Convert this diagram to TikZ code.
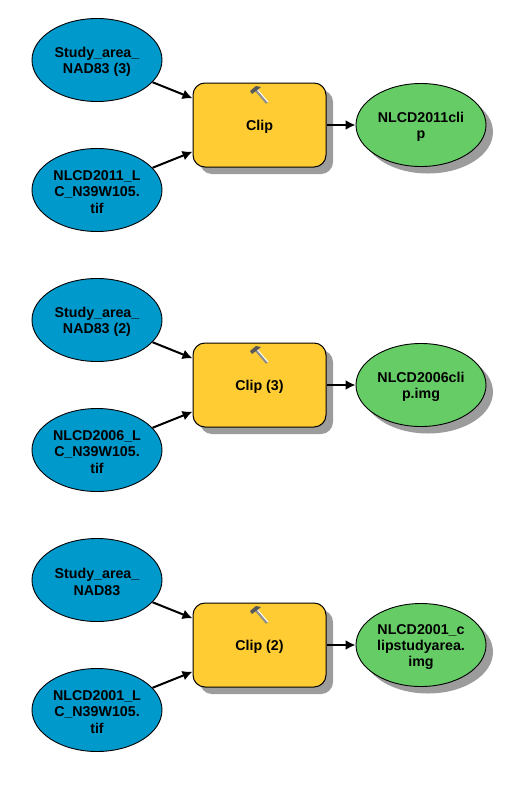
\documentclass[tikz,border=0pt]{standalone}
\usepackage{fontspec}
\setmainfont{Liberation Sans}
\usepackage{tikz}
\usetikzlibrary{
	arrows.meta, shapes.geometric, positioning, shadows
}
\definecolor{inputblue}  {RGB}{0,  153, 204}
\definecolor{toolyellow} {RGB}{255,204, 51}
\definecolor{outgreen}   {RGB}{102,204, 102}
\definecolor{shadowgrey} {RGB}{156,156, 156}
\newcommand{\topgap}{\rule{0pt}{8pt}}
\tikzset{
	modeltext/.style={font=\fontsize{8.1}{9.3}\selectfont\bfseries,align=center,inner sep=0pt,text=black},
	dropgrey/.style={drop shadow={shadow xshift=1.4mm,shadow yshift=-1.4mm,fill=shadowgrey,opacity=1}},
	datain/.style={modeltext,ellipse,draw=black,line width=0.18mm,fill=inputblue,minimum width=26mm,minimum height=16.6mm},
	dataout/.style={modeltext,ellipse,draw=black,line width=0.18mm,fill=outgreen,dropgrey,minimum width=26mm,minimum height=16.6mm},
	toolbox/.style={modeltext,rectangle,rounded corners=2.4mm,draw=black,line width=0.2mm,fill=toolyellow,dropgrey,minimum width=26.6mm,minimum height=16.8mm},
	link/.style={line width=0.4mm,-{Latex[length=2mm,width=2mm]}}
}
\begin{document}
\begin{tikzpicture}[x=0.2mm,y=-0.2mm]
	\useasboundingbox (0,0) rectangle (526,786);
	\foreach \i/\dy/\area/\raster/\tool/\result in {
		1/0/{Study\_area\_\\NAD83 (3)}/{NLCD2011\_L\\C\_N39W105.\\tif}/{Clip}/{NLCD2011cli\\p},
		2/260/{Study\_area\_\\NAD83 (2)}/{NLCD2006\_L\\C\_N39W105.\\tif}/{Clip (3)}/{NLCD2006cli\\p.img},
		3/520/{Study\_area\_\\NAD83}/{NLCD2001\_L\\C\_N39W105.\\tif}/{Clip (2)}/{NLCD2001\_c\\lipstudyarea.\\img}}{
		\node[datain] (area\i) at (97,60+\dy) {\topgap\area};
		\node[datain] (raster\i) at (97,190+\dy) {\topgap\raster};
		\node[toolbox] (clip\i) at (259.5,125+\dy) {\topgap\tool};
		\node[dataout] (out\i) at (421,125+\dy) {\topgap\result};
		\draw[link] (area\i) -- (clip\i);
		\draw[link] (raster\i) -- (clip\i);
		\draw[link] (clip\i) -- (out\i);
		% hammer icon on the tool box
		\draw[line width=0.5mm,draw=black!45] (255,89+\dy) -- (267,103+\dy);
		\draw[line width=0.2mm,draw=white] (256,88+\dy) -- (268,102+\dy);
		\fill[black!65] (250,91+\dy) -- (256,86+\dy) -- (261,87+\dy) -- (256,91+\dy) -- (252,94+\dy) -- cycle;
	}
\end{tikzpicture}
\end{document}
